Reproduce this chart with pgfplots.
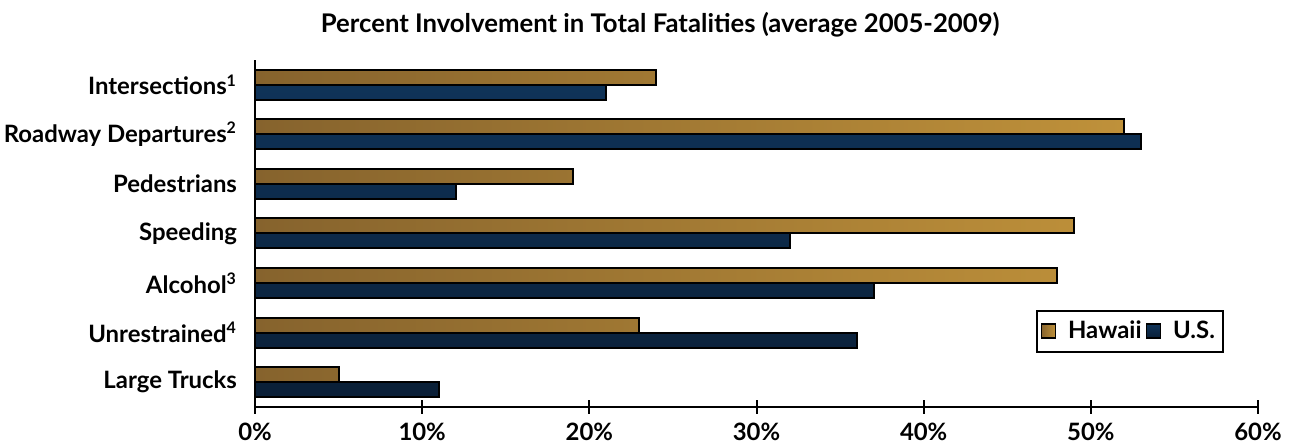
\documentclass[border=0pt]{standalone}
\usepackage{fontspec}
\setmainfont{Lato}
\usepackage{pgfplots}
\pgfplotsset{compat=1.18}

\definecolor{hawaiiL}{HTML}{86632D}
\definecolor{hawaiiR}{HTML}{BF913A}
\definecolor{usMid}{HTML}{0F3358}
\definecolor{usEdge}{HTML}{0A1F37}

\begin{document}
\begin{tikzpicture}
\begin{axis}[
    name=ax,
    scale only axis,
    width=501.5bp, height=173.5bp,
    xbar, bar width=7.5bp,
    xmin=0, xmax=60,
    ymin=-0.5, ymax=6.5,
    axis x line*=bottom, axis y line*=left,
    axis line style={line width=1pt},
    xtick={0,10,...,60},
    xticklabel={\pgfmathprintnumber{\tick}\%},
    ytick={0,...,6},
    yticklabels={Large Trucks,
                 Unrestrained\textsuperscript{4},
                 Alcohol\textsuperscript{3},
                 Speeding,Pedestrians,
                 Roadway Departures\textsuperscript{2},
                 Intersections\textsuperscript{1}},
    major y tick style={draw=none},
    extra y ticks={-0.5,0.5,...,6.5},
    extra y tick labels={},
    extra y tick style={tick style={line width=1pt, black}},
    tick align=center,
    major tick length=7bp,
    x tick style={line width=1pt, black},
    ticklabel style={font=\fontsize{12}{14}\selectfont\bfseries},
    yticklabel style={xshift=-2bp},
    xticklabel style={yshift=-1bp},
    /pgf/number format/assume math mode=true,
    title={Percent Involvement in Total Fatalities (average 2005-2009)},
    title style={font=\fontsize{12.9}{15}\selectfont\bfseries,
                 at={(rel axis cs:0.404,1)}, anchor=south, yshift=2bp},
    legend style={at={(rel axis cs:0.966,0.28)}, anchor=north east,
                  draw=black, line width=1pt,
                  font=\fontsize{12}{14}\selectfont\bfseries,
                  inner xsep=2bp, inner ysep=3bp,
                  /tikz/every odd column/.append style={column sep=4bp}},
    legend columns=2,
    legend cell align=left,
    legend image code/.code={\draw[#1, line width=0.8pt] (0bp,-3.5bp) rectangle (7bp,3.5bp);},
    clip=false,
]
\addplot[draw=black, line width=1pt, left color=hawaiiL, right color=hawaiiR,
         bar shift=3.75bp] coordinates {
    (5,0) (23,1) (48,2) (49,3) (19,4) (52,5) (24,6)
};
\addlegendentry{Hawaii}
\addplot[draw=black, line width=1pt, top color=usMid, bottom color=usEdge,
         bar shift=-3.75bp] coordinates {
    (11,0) (36,1) (37,2) (32,3) (12,4) (53,5) (21,6)
};
\addlegendentry{U.S.}
\coordinate (bbsw) at (rel axis cs:0,0);
\coordinate (bbne) at (rel axis cs:1,1);
\end{axis}
\pgfresetboundingbox
\path[use as bounding box] ([shift={(-127.5bp,-18.5bp)}]bbsw) rectangle ([shift={(16.5bp,30bp)}]bbne);
\end{tikzpicture}
\end{document}
